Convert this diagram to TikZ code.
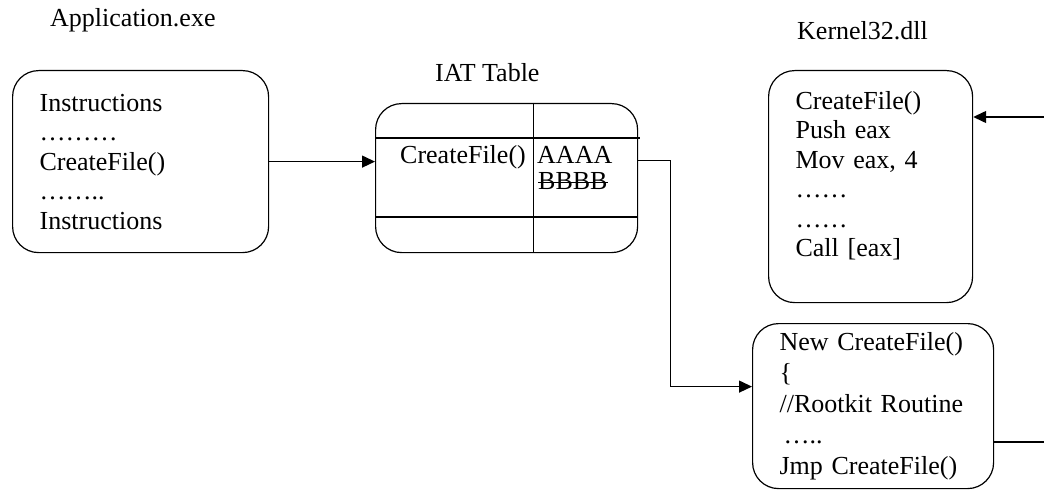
\documentclass[tikz,border=0pt]{standalone}
\usepackage{fontspec}
\setmainfont{Liberation Serif}
\usetikzlibrary{arrows.meta}

\tikzset{
  codebox/.style={draw, rounded corners=26pt, line width=1.2pt, align=left, inner xsep=27pt, inner ysep=0pt, anchor=north west, font=\fontsize{26pt}{29.5pt}\selectfont},
  caption/.style={anchor=base west, inner sep=0pt, font=\fontsize{26pt}{29.5pt}\selectfont},
  link/.style={->, line width=1.3pt}
}

\begin{document}
\begin{tikzpicture}[x=1pt, y=-1pt, >={Triangle[length=13pt,width=12pt]}]
  \useasboundingbox (0,0) rectangle (1044,500);

  % captions
  \node[caption] (appname) at (50,27) {Application.exe};
  \node[caption] (iatname) at (435,82) {IAT Table};
  \node[caption] (k32name) at (797,40) {Kernel32.dll};

  % code boxes
  \node[codebox, text width=202pt, minimum height=182pt] (app) at (12,70) {Instructions\\………\\CreateFile()\\……..\\Instructions};
  \node[codebox, text width=150pt, minimum height=232pt, text depth=173pt] (kernel) at (768,70) {CreateFile()\\Push eax\\Mov eax, 4\\……\\……\\Call [eax]};
  \node[codebox, text width=187pt, minimum height=165pt, font=\fontsize{26pt}{31pt}\selectfont] (hook) at (752,323) {New CreateFile()\\\{\\//Rootkit Routine\\\hspace{4pt}…..\\Jmp CreateFile()};

  % import table
  \node[draw, rounded corners=26pt, line width=1.2pt, minimum width=262pt, minimum height=149pt, inner sep=0pt, anchor=north west] (iat) at (375,103) {};
  \draw[line width=1.2pt] (iat.north west) ++(0,35) -- ++(265,0);
  \draw[line width=1.2pt] (iat.north west) ++(0,114) -- ++(262,0);
  \draw[line width=1.2pt] (iat.north) ++(27,0) -- ++(0,149);
  \node[caption] (iatfunc) at (400,164) {CreateFile()};
  \node[caption, text depth=0pt] (iatnew) at (537,164) {AAAA};
  \node[caption, text height=17pt] (iatold) at (538,189) {BBBB};
  \draw[line width=1pt] ([yshift=7pt]iatold.base west) -- ([yshift=7pt]iatold.base east);

  % connectors
  \coordinate (k32in) at (1044,117);
  \coordinate (hookout) at (1044,442);
  \draw[link] (app.east) -- (app.east -| iat.west);
  \draw[link] ([yshift=17.5pt]iat.east) -- ++(32,0) |- ([yshift=19.5pt]hook.west);
  \draw[link] (k32in) -- (k32in -| kernel.east);
  \draw[line width=1.3pt] (hookout -| hook.east) -- (hookout);
\end{tikzpicture}
\end{document}
